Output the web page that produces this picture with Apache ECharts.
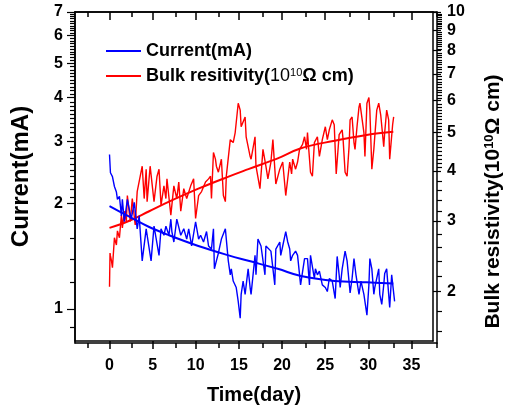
<!DOCTYPE html>
<html>
<head>
<meta charset="utf-8">
<script src="https://cdn.jsdelivr.net/npm/echarts@6/dist/echarts.min.js"></script>
<style>
html, body { margin: 0; padding: 0; background: #fff; }
#chart { width: 512px; height: 410px; }
</style>
</head>
<body>
<div id="chart"></div>
<script>
// current (mA)
var curDay = [0, 0.11, 0.34, 0.57, 0.8, 0.92, 1.15, 1.38, 1.49, 1.72, 2.07, 2.52, 2.87, 3.21, 3.44, 3.79, 4.25, 4.82, 5.16,
    5.74, 5.97, 6.31, 6.54, 6.89, 7.11, 7.23, 7.46, 7.8, 8.26, 8.61, 8.95, 9.18, 9.52, 9.98, 10.33, 10.56, 10.9, 11.25,
    11.48, 11.82, 12.05, 12.16, 12.39, 12.62, 12.97, 13.43, 13.77, 14.0, 14.12, 14.34, 14.69, 14.92, 15.15, 15.26, 15.49,
    15.72, 16.07, 16.3, 16.41, 16.87, 16.98, 17.21, 17.56, 18.02, 18.13, 18.36, 18.71, 19.16, 19.28, 19.74, 19.85, 20.08,
    20.43, 20.66, 20.89, 21.0, 21.23, 21.57, 21.8, 22.15, 22.61, 22.95, 23.18, 23.3, 23.75, 23.87, 24.1, 24.33, 24.67,
    25.02, 25.25, 25.48, 25.82, 26.16, 26.39, 26.62, 26.74, 26.97, 27.31, 27.54, 27.89, 28.12, 28.34, 28.57, 28.92, 29.15,
    29.49, 29.84, 30.07, 30.18, 30.41, 30.64, 30.75, 31.21, 31.33, 31.56, 31.79, 31.9, 32.13, 32.48, 32.71, 32.94, 33.05];
var curVal = [2.75, 2.44, 2.38, 2.23, 2.15, 2.05, 2.09, 1.84, 2.05, 1.77, 2.05, 1.80, 2.01, 1.69, 1.84, 1.37, 1.69, 1.37, 1.72,
    1.42, 1.69, 1.62, 1.72, 1.62, 1.80, 1.66, 1.55, 1.80, 1.62, 1.69, 1.58, 1.69, 1.51, 1.77, 1.58, 1.62, 1.55, 1.66,
    1.51, 1.48, 1.69, 1.30, 1.37, 1.44, 1.58, 1.69, 1.37, 1.25, 1.30, 1.20, 1.15, 1.05, 0.94, 1.10, 1.20,
    1.10, 1.30, 1.15, 1.10, 1.42, 1.25, 1.58, 1.51, 1.25, 1.51, 1.51, 1.46, 1.17, 1.48, 1.55, 1.42, 1.51,
    1.66, 1.55, 1.48, 1.37, 1.42, 1.46, 1.42, 1.17, 1.39, 1.39, 1.17, 1.42, 1.22, 1.30, 1.25, 1.28, 1.17,
    1.15, 1.12, 1.22, 1.20, 1.07, 1.41, 1.25, 1.15, 1.30, 1.46, 1.37, 1.11, 1.22, 1.39, 1.25, 1.10, 1.20,
    1.10, 0.96, 1.17, 1.39, 1.30, 1.10, 1.15, 1.30, 1.10, 1.03, 1.17, 1.26, 1.30, 1.01, 1.25, 1.25, 1.05];

// bulk resistivity (10^10 ohm cm), red trace
var resDay = [0, 0.06, 0.11, 0.23, 0.34, 0.57, 0.8, 0.92, 1.15, 1.38, 1.49, 1.72, 1.95, 2.07, 2.41, 2.64, 2.98, 3.21, 3.79,
    4.02, 4.25, 4.36, 4.71, 5.16, 5.51, 5.74, 5.97, 6.31, 6.54, 6.66, 7.11, 7.46, 7.8, 8.03, 8.26, 8.61, 8.95, 9.41, 9.75,
    9.98, 10.33, 10.67, 11.13, 11.48, 11.71, 11.82, 12.05, 12.28, 12.39, 12.62, 12.97, 13.2, 13.43, 13.54, 14.0, 14.34,
    14.57, 14.92, 15.15, 15.26, 15.72, 15.84, 16.07, 16.3, 16.41, 16.87, 16.98, 17.44, 17.79, 18.13, 18.36, 18.71, 18.94,
    19.28, 19.74, 20.08, 20.43, 20.89, 21.11, 21.23, 21.57, 21.8, 22.03, 22.38, 22.61, 22.84, 22.95, 23.3, 23.52, 23.75,
    24.1, 24.33, 24.67, 25.02, 25.25, 25.48, 25.82, 26.05, 26.28, 26.62, 26.97, 27.08, 27.31, 27.54, 27.77, 27.89, 28.12,
    28.34, 28.46, 28.69, 28.92, 29.03, 29.49, 29.61, 29.84, 30.07, 30.18, 30.41, 30.64, 30.98, 31.21, 31.44, 31.79, 31.9,
    32.13, 32.36, 32.48, 32.82, 32.94];
var resVal = [2.05, 2.49, 2.45, 2.38, 2.29, 2.72, 2.61, 2.83, 2.72, 3.10, 2.88, 3.17, 2.99, 3.47, 2.99, 3.41, 2.93, 3.55, 4.11,
    3.41, 4.04, 3.35, 4.11, 3.35, 3.88, 4.04, 3.28, 3.67, 3.41, 3.82, 3.10, 3.67, 3.41, 3.75, 3.17, 3.61, 3.41, 3.67, 3.82,
    3.04, 3.47, 3.55, 3.75, 3.82, 3.88, 3.41, 4.45, 4.28, 4.11, 3.97, 4.28, 3.47, 3.35, 3.88, 4.79, 4.71,
    4.99, 5.91, 5.68, 5.16, 5.46, 4.87, 4.87, 4.35, 4.28, 4.87, 4.11, 3.61, 4.53, 4.11, 3.82, 4.21, 4.79,
    3.71, 4.04, 4.21, 3.47, 4.21, 3.93, 4.28, 4.04, 4.21, 4.53, 4.66, 4.87, 4.53, 4.99, 3.97, 3.88, 4.71,
    4.87, 4.35, 4.79, 5.16, 4.79, 5.07, 5.37, 5.22, 3.93, 4.93, 5.07, 4.79, 3.97, 3.88, 4.60, 5.37, 5.46,
    4.71, 4.53, 5.16, 5.78, 5.91, 4.99, 4.35, 5.91, 6.11, 5.68, 4.04, 4.53, 5.68, 5.91, 5.52, 4.60, 4.99,
    5.68, 5.37, 4.28, 5.22, 5.46];

// fitted curves
var curFitDay = [0, 2.3, 4.6, 6.9, 10.3, 13.8, 16.1, 19.5, 22.2, 26.1, 29.8, 32.9];
var curFitVal = [1.96, 1.83, 1.71, 1.62, 1.51, 1.42, 1.37, 1.30, 1.24, 1.20, 1.19, 1.18];
var resFitDay = [0, 2.3, 4.6, 6.9, 10.3, 13.8, 16.1, 19.5, 22.2, 26.1, 29.8, 32.9];
var resFitVal = [2.88, 3.00, 3.17, 3.35, 3.61, 3.87, 4.04, 4.30, 4.56, 4.76, 4.92, 5.01];

// ticks
var xTicks = [0, 5, 10, 15, 20, 25, 30, 35];
var xMinor = [-2.5, 2.5, 7.5, 12.5, 17.5, 22.5, 27.5, 32.5, 37.5];
var curTicks = [1, 2, 3, 4, 5, 6, 7];
var curMinor = [0.9, 1.2, 1.4, 1.6, 1.8, 2.1, 2.2, 2.3, 2.4, 2.5, 2.6, 2.7, 2.8, 2.9, 3.1, 3.2, 3.3, 3.4, 3.5, 3.6, 3.7, 3.8, 3.9,
    4.1, 4.2, 4.3, 4.4, 4.5, 4.6, 4.7, 4.8, 4.9, 5.1, 5.2, 5.3, 5.4, 5.5, 5.6, 5.7, 5.8, 5.9, 6.1, 6.2, 6.3, 6.4, 6.5, 6.6, 6.7, 6.8, 6.9];
var resTicks = [2, 3, 4, 5, 6, 7, 8, 9, 10];
var resMinor = [1.6, 1.8, 2.2, 2.4, 2.6, 2.8, 3.2, 3.4, 3.6, 3.8, 4.1, 4.2, 4.3, 4.4, 4.5, 4.6, 4.7, 4.8, 4.9,
    5.1, 5.2, 5.3, 5.4, 5.5, 5.6, 5.7, 5.8, 5.9, 6.1, 6.2, 6.3, 6.4, 6.5, 6.6, 6.7, 6.8, 6.9, 7.1, 7.2, 7.3, 7.4, 7.5, 7.6, 7.7, 7.8, 7.9,
    8.1, 8.2, 8.3, 8.4, 8.5, 8.6, 8.7, 8.8, 8.9, 9.1, 9.2, 9.3, 9.4, 9.5, 9.6, 9.7, 9.8, 9.9];

var lg = Math.log10;
var FONT = 'Liberation Sans, Arial, sans-serif';
var black = '#000';

function pairs(days, vals) {
    return days.map(function (d, i) { return [d, lg(vals[i])]; });
}

// grid 0 carries the major ticks, grid 1 (same rect) the minor ones
function xAx(grid, pos, ticks, len, inside, labels) {
    return {
        type: 'value', gridIndex: grid, position: pos, min: -4, max: 37.5,
        axisLine: {show: true, onZero: false, lineStyle: {color: black, width: 1.5}},
        axisTick: {show: true, inside: inside, length: len, customValues: ticks, lineStyle: {color: black, width: 1.5}},
        axisLabel: labels ? {customValues: xTicks, margin: 17, color: black, fontSize: 16, fontWeight: 'bold', fontFamily: FONT}
                          : {show: false},
        splitLine: {show: false}
    };
}

function yAx(grid, pos, lo, hi, ticks, len, labels, margin) {
    return {
        type: 'value', gridIndex: grid, position: pos, min: lg(lo), max: lg(hi),
        axisLine: {show: true, onZero: false, lineStyle: {color: black, width: 1.5}},
        axisTick: {show: true, length: len, customValues: ticks.map(lg), lineStyle: {color: black, width: 1.2}},
        axisLabel: labels ? {
            customValues: ticks.map(lg), margin: margin, color: black, fontSize: 16, fontWeight: 'bold', fontFamily: FONT,
            formatter: function (v) { return String(Math.round(Math.pow(10, v))); }
        } : {show: false},
        splitLine: {show: false}
    };
}

var chart = echarts.init(document.getElementById('chart'));

var bottomX = xAx(0, 'bottom', xTicks, 8, false, true);
bottomX.name = 'Time(day)';
bottomX.nameLocation = 'middle';
bottomX.nameGap = 44;
bottomX.nameTextStyle = {color: black, fontSize: 20, fontWeight: 'bold', fontFamily: FONT};

var leftY = yAx(0, 'left', 0.81, 7, curTicks, 8, true, 12);
leftY.name = 'Current(mA)';
leftY.nameLocation = 'middle';
leftY.nameRotate = 90;
leftY.nameGap = 42;
leftY.nameTextStyle = {color: black, fontSize: 24, fontWeight: 'bold', fontFamily: FONT};

var rightY = yAx(0, 'right', 1.5, 10, resTicks, 8, true, 14);
rightY.name = '{b|Bulk resistivity(10}{s|10}{b|Ω cm)}';
rightY.nameLocation = 'middle';
rightY.nameRotate = 90;
rightY.nameGap = 50;
rightY.nameTextStyle = {
    color: black, fontSize: 21, fontWeight: 'bold', fontFamily: FONT, padding: [0, 50, 0, 0],
    rich: {
        b: {color: black, fontSize: 21, fontWeight: 'bold', fontFamily: FONT},
        s: {color: black, fontSize: 13, fontWeight: 'bold', fontFamily: FONT, verticalAlign: 'top'}
    }
};

var gridBox = {left: 75, right: 75, top: 12, bottom: 67};

var option = {
    animation: false,
    backgroundColor: '#fff',
    grid: [gridBox, gridBox],
    legend: {
        data: ['Current(mA)', 'Bulk resitivity'],
        orient: 'vertical', left: 101, top: 37,
        icon: 'rect', itemWidth: 35, itemHeight: 2, itemGap: 7,
        formatter: function (n) {
            return n === 'Current(mA)' ? '{b|Current(mA)}' : '{b|Bulk resitivity(}{n|10}{s|10}{b|Ω cm)}';
        },
        textStyle: {
            color: black,
            rich: {
                b: {color: black, fontSize: 18, fontWeight: 'bold', fontFamily: FONT},
                n: {color: black, fontSize: 18, fontFamily: FONT},
                s: {color: black, fontSize: 11, fontFamily: FONT, verticalAlign: 'top'}
            }
        }
    },
    xAxis: [
        bottomX,
        xAx(0, 'top', xTicks, 8, true, false),
        xAx(1, 'bottom', xMinor, 5, false, false),
        xAx(1, 'top', xMinor, 5, true, false)
    ],
    yAxis: [
        leftY,
        rightY,
        yAx(1, 'left', 0.81, 7, curMinor, 5, false),
        yAx(1, 'right', 1.5, 10, resMinor, 5, false)
    ],
    series: [
        {
            name: 'Bulk resitivity', type: 'line', xAxisIndex: 0, yAxisIndex: 1,
            data: pairs(resDay, resVal), showSymbol: false, color: '#ff0000',
            lineStyle: {color: '#ff0000', width: 1.4}
        },
        {
            name: 'Bulk resitivity fit', type: 'line', xAxisIndex: 0, yAxisIndex: 1,
            data: pairs(resFitDay, resFitVal), showSymbol: false, smooth: 0.4,
            lineStyle: {color: '#ff0000', width: 2}
        },
        {
            name: 'Current(mA)', type: 'line', xAxisIndex: 0, yAxisIndex: 0,
            data: pairs(curDay, curVal), showSymbol: false, color: '#0000ff',
            lineStyle: {color: '#0000ff', width: 1.4}
        },
        {
            name: 'Current fit', type: 'line', xAxisIndex: 0, yAxisIndex: 0,
            data: pairs(curFitDay, curFitVal), showSymbol: false, smooth: 0.4,
            lineStyle: {color: '#0000ff', width: 2}
        },
        // empty series so the minor-tick grid gets a coordinate system
        {name: 'minor-left', type: 'line', xAxisIndex: 2, yAxisIndex: 2, data: [], silent: true},
        {name: 'minor-right', type: 'line', xAxisIndex: 3, yAxisIndex: 3, data: [], silent: true}
    ]
};

chart.setOption(option);
</script>
</body>
</html>
